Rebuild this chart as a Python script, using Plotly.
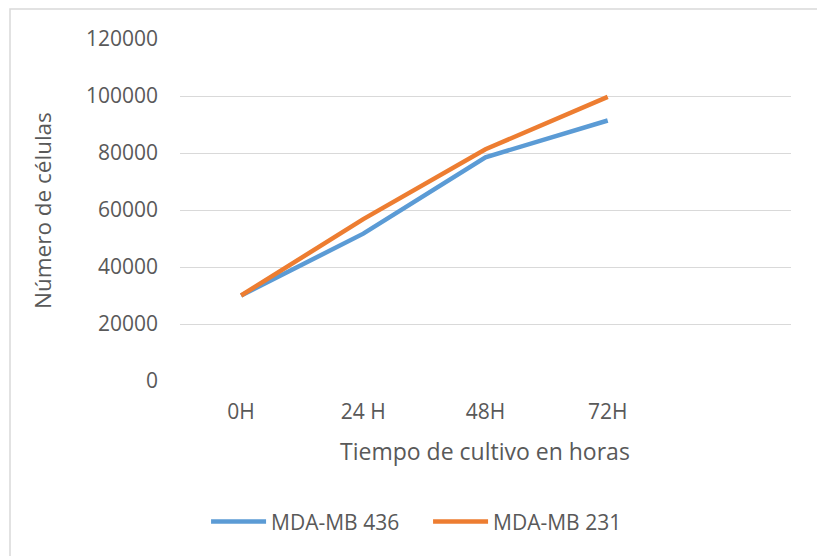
import plotly.graph_objects as go

categories = ["0H", "24 H", "48H", "72H"]
mda_mb_436 = [30000, 51700, 78500, 91400]
mda_mb_231 = [30000, 56800, 81300, 99700]
y_ticks = [0, 20000, 40000, 60000, 80000, 100000, 120000]

FONT = "Open Sans"
TXT = "#595959"

fig = go.Figure()
fig.add_trace(go.Scatter(x=categories, y=mda_mb_436, mode="lines", name="MDA-MB 436",
                         line=dict(color="#5B9BD5", width=4.5)))
fig.add_trace(go.Scatter(x=categories, y=mda_mb_231, mode="lines", name="MDA-MB 231",
                         line=dict(color="#ED7D31", width=4.5)))

# page has an 8px body margin, so the figure is shifted; compensate
fig.update_layout(
    width=817, height=548,
    margin=dict(l=172, r=34, t=31, b=175),
    paper_bgcolor="white", plot_bgcolor="white",
    font=dict(family=FONT, size=21, color=TXT),
    showlegend=True,
    legend=dict(orientation="h", x=0.406, xanchor="center", y=-0.412, yanchor="middle",
                font=dict(size=21, color=TXT), itemwidth=55, traceorder="normal",
                entrywidth=152, entrywidthmode="pixels"),
    xaxis=dict(type="category", categoryarray=categories, range=[-0.5, 4.5],
               showgrid=False, zeroline=False, showline=False, ticks="",
               ticklabelstandoff=16, tickfont=dict(size=21, color=TXT)),
    yaxis=dict(range=[0, 120000], tickvals=y_ticks, ticktext=[str(v) for v in y_ticks],
               showgrid=True, gridcolor="#d9d9d9", gridwidth=1.4,
               zeroline=False, showline=False, ticks="", ticklabelstandoff=21,
               tickfont=dict(size=21, color=TXT)),
    annotations=[
        dict(text="Número de células", xref="paper", yref="paper", x=-0.2259, y=0.5,
             xanchor="center", yanchor="middle", textangle=-90, showarrow=False,
             font=dict(size=22.5, color=TXT, family=FONT)),
        dict(text="Tiempo de cultivo en horas", xref="paper", yref="paper", x=0.499, y=-0.2047,
             xanchor="center", yanchor="middle", showarrow=False,
             font=dict(size=23, color=TXT, family=FONT)),
    ],
    shapes=[
        dict(type="rect", xref="paper", yref="paper",
             x0=(10 - 180) / 611, x1=(820 - 180) / 611,
             y0=(381 - 560) / 342, y1=(381 - 9) / 342,
             line=dict(color="#d9d9d9", width=1.5), fillcolor="rgba(0,0,0,0)", layer="below"),
    ],
)

fig.write_html("out.html")
